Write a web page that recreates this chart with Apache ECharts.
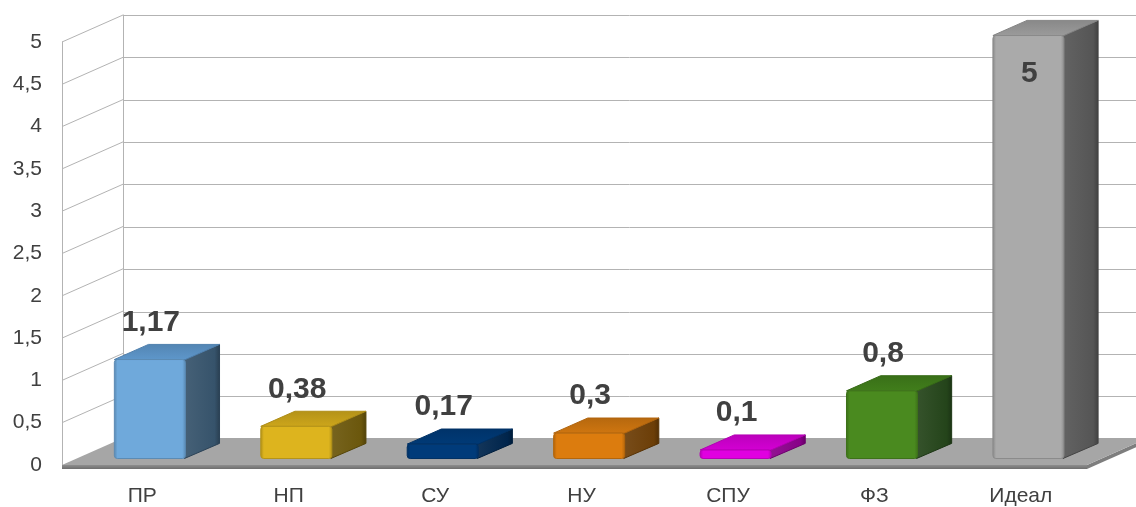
<!DOCTYPE html>
<html>
<head>
<meta charset="utf-8">
<script src="https://cdn.jsdelivr.net/npm/echarts@6/dist/echarts.min.js"></script>
<style>
  html, body { margin: 0; padding: 0; background: #ffffff; }
  #chart { width: 1136px; height: 507px; }
</style>
</head>
<body>
<div id="chart"></div>
<script>
// Categories and their scores
const categories = ['ПР', 'НП', 'СУ', 'НУ', 'СПУ', 'ФЗ', 'Идеал'];
const values = [1.17, 0.38, 0.17, 0.3, 0.1, 0.8, 5];
// Value-axis levels that get a line across the side wall
const wallLevels = [0.5, 1, 1.5, 2, 2.5, 3, 3.5, 4, 4.5, 5];

// Bar colours: front, side, top
const barColors = [
  ['#6FA9DB', '#36536B', '#5E97CB'],
  ['#DDB41E', '#6B570C', '#CDA61B'],
  ['#003B7A', '#00254C', '#003A77'],
  ['#DC7C0E', '#6C3E07', '#CF7610'],
  ['#E000E0', '#880088', '#D400D4'],
  ['#4A8A1F', '#24441A', '#417E1B'],
  ['#AAAAAA', '#555555', '#9B9B9B']
];

// Oblique depth of the plot box (front plane -> back wall), in px
const DX = 61, DY = -27;
// Bars occupy this slice of the floor depth
const BAR_FRONT = 0.24, BAR_DEPTH = 0.56;
const BAR_WIDTH = 0.485;
const FONT = '"Liberation Sans", Arial, sans-serif';
const fmt = v => String(v).replace('.', ',');

function shade(hex, k) {
  const n = parseInt(hex.slice(1), 16);
  let r = (n >> 16) & 255, g = (n >> 8) & 255, b = n & 255;
  const f = c => Math.max(0, Math.min(255, Math.round(k < 0 ? c * (1 + k) : c + (255 - c) * k)));
  return 'rgb(' + f(r) + ',' + f(g) + ',' + f(b) + ')';
}

const chart = echarts.init(document.getElementById('chart'), null, { renderer: 'canvas' });

function renderWall(params, api) {
  const p = api.coord([0, api.value(1)]);
  const band = api.size([1, 0])[0];
  const x0 = p[0] - band / 2;
  return {
    type: 'line',
    shape: { x1: x0, y1: p[1], x2: x0 + DX, y2: p[1] + DY },
    style: { stroke: '#B3B3B3', lineWidth: 1 }
  };
}

function renderFloor(params, api) {
  const band = api.size([1, 0])[0];
  const a = api.coord([0, 0]);
  const b = api.coord([categories.length - 1, 0]);
  const x0 = a[0] - band / 2, x1 = b[0] + band / 2, y = a[1];
  const t = 4;
  return {
    type: 'group',
    children: [
      { type: 'polygon', shape: { points: [[x0, y], [x1, y], [x1, y + t], [x0, y + t]] },
        style: { fill: new echarts.graphic.LinearGradient(0, 0, 0, 1, [
          { offset: 0, color: '#8E8E8E' }, { offset: 1, color: '#6E6E6E' }]) } },
      { type: 'polygon', shape: { points: [[x1, y], [x1 + DX, y + DY], [x1 + DX, y + DY + t], [x1, y + t]] },
        style: { fill: '#7E7E7E' } },
      { type: 'polygon', shape: { points: [[x0, y], [x0 + DX, y + DY], [x1 + DX, y + DY], [x1, y]] },
        style: { fill: '#A6A6A6' } }
    ]
  };
}

function renderBar(params, api) {
  const i = api.value(0), v = api.value(1);
  const c = barColors[params.dataIndex];
  const base = api.coord([i, 0]);
  const top = api.coord([i, v]);
  const band = api.size([1, 0])[0];
  const w = band * BAR_WIDTH;
  const xL = base[0] - w / 2 + BAR_FRONT * DX;
  const xR = xL + w;
  const yB = base[1] + BAR_FRONT * DY;
  const yT = top[1] + BAR_FRONT * DY;
  const dx = BAR_DEPTH * DX, dy = BAR_DEPTH * DY;
  const r = 3;

  const children = [
    // side face
    { type: 'polygon',
      shape: { points: [[xR - 1, yT], [xR + dx, yT + dy], [xR + dx, yB + dy], [xR - 1, yB]] },
      style: { fill: new echarts.graphic.LinearGradient(0, 0, 1, 0, [
        { offset: 0, color: shade(c[1], 0.08) }, { offset: 0.85, color: c[1] }, { offset: 1, color: shade(c[1], -0.25) }]),
        stroke: shade(c[1], -0.2), lineWidth: 1, lineJoin: 'round' } },
    // top face
    { type: 'polygon',
      shape: { points: [[xL, yT], [xL + dx, yT + dy], [xR + dx, yT + dy], [xR, yT]] },
      style: { fill: new echarts.graphic.LinearGradient(0, 0, 0, 1, [
        { offset: 0, color: shade(c[2], -0.12) }, { offset: 1, color: c[2] }]),
        stroke: shade(c[2], -0.15), lineWidth: 1, lineJoin: 'round' } },
    // front face
    { type: 'rect',
      shape: { x: xL, y: yT, width: w, height: Math.max(1, yB - yT), r: r },
      style: { fill: new echarts.graphic.LinearGradient(0, 0, 1, 0, [
        { offset: 0, color: shade(c[0], -0.22) }, { offset: 0.05, color: c[0] },
        { offset: 0.95, color: c[0] }, { offset: 1, color: shade(c[0], -0.18) }]),
        stroke: shade(c[0], -0.18), lineWidth: 1 } }
  ];

  // value label: above the bar, or inside the top when the bar reaches the axis maximum
  const inside = v >= 5;
  const ly = inside ? yT + 38 : yT + dy - 22;
  children.push({
    type: 'text',
    style: {
      text: fmt(v), x: (xL + xR) / 2 + 1, y: ly,
      fill: '#404040', font: 'bold 30px ' + FONT,
      align: 'center', verticalAlign: 'middle'
    }
  });
  return { type: 'group', children: children };
}

const option = {
  animation: false,
  backgroundColor: '#ffffff',
  grid: [
    { left: 62, right: 49, top: 42, bottom: 41 },   // front plane
    { left: 123, right: 0, top: 15, bottom: 68 }    // back wall
  ],
  xAxis: [
    { type: 'category', gridIndex: 0, data: categories,
      axisLine: { show: false }, axisTick: { show: false }, splitLine: { show: false },
      axisLabel: { margin: 21, fontSize: 21, color: '#404040', fontFamily: FONT, padding: [0, 0, 0, 14] } },
    { type: 'category', gridIndex: 1, data: categories, show: false }
  ],
  yAxis: [
    { type: 'value', gridIndex: 0, min: 0, max: 5, interval: 0.5,
      axisLine: { show: true, lineStyle: { color: '#B3B3B3', width: 1 } },
      axisTick: { show: false }, splitLine: { show: false },
      axisLabel: { margin: 20, fontSize: 21, color: '#404040', fontFamily: FONT, formatter: fmt } },
    { type: 'value', gridIndex: 1, min: 0, max: 5, interval: 0.5,
      axisLine: { show: true, lineStyle: { color: '#B3B3B3', width: 1 } },
      axisTick: { show: false }, axisLabel: { show: false },
      splitLine: { show: true, lineStyle: { color: '#B3B3B3', width: 1 } } }
  ],
  series: [
    { type: 'custom', xAxisIndex: 0, yAxisIndex: 0, clip: false, silent: true,
      renderItem: renderWall, data: wallLevels.map(v => [0, v]), z: 1 },
    { type: 'custom', xAxisIndex: 0, yAxisIndex: 0, clip: false, silent: true,
      renderItem: renderFloor, data: [[0, 0]], z: 2 },
    { type: 'custom', xAxisIndex: 0, yAxisIndex: 0, clip: false, silent: true,
      renderItem: renderBar, data: values.map((v, i) => [i, v]), z: 3 }
  ]
};

chart.setOption(option);
</script>
</body>
</html>
